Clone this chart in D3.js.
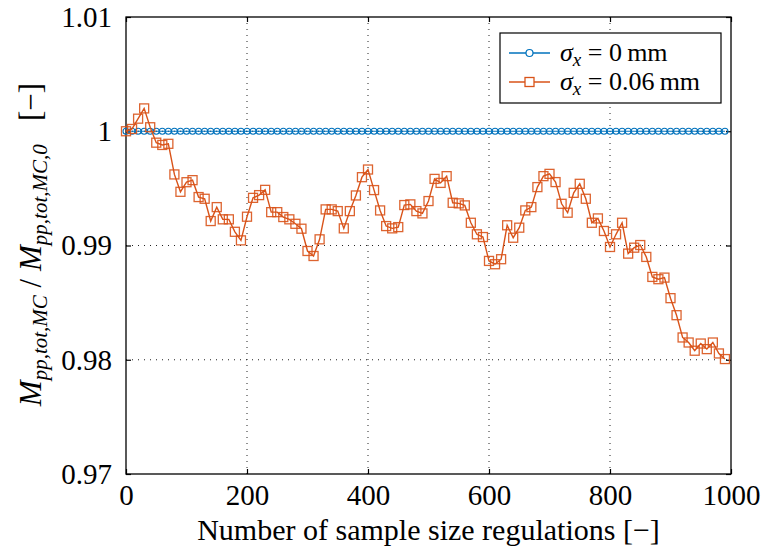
<!DOCTYPE html>
<html>
<head>
<meta charset="utf-8">
<script src="https://cdn.jsdelivr.net/npm/d3@7"></script>
<style>
  body { margin: 0; background: #fff; }
  text { font-family: "Liberation Serif", serif; fill: #000; }
</style>
</head>
<body>
<svg id="chart"></svg>
<script>
// sample size regulation steps (0, 10, ..., 990)
var steps = d3.range(0, 1000, 10);

// sigma_x = 0 mm -> ratio stays at 1
var ratioZero = steps.map(function() { return 1; });

// sigma_x = 0.06 mm
var ratioNoise = [
  1.0000, 1.0002, 1.0011, 1.0020, 1.00035, 0.9990, 0.9988, 0.9989, 0.99622, 0.99470,
  0.99554, 0.99572, 0.99424, 0.99409, 0.99214, 0.99336, 0.99229, 0.99229, 0.9912, 0.99045,
  0.99252, 0.99417, 0.99441, 0.99487, 0.99292, 0.99292, 0.99249, 0.99229, 0.99190, 0.99147,
  0.98952, 0.98908, 0.99054, 0.99316, 0.99316, 0.99301, 0.9915, 0.99301, 0.99438, 0.99598,
  0.99665, 0.99485, 0.99307, 0.9917, 0.9915, 0.99161, 0.99354, 0.9936, 0.99301, 0.99281,
  0.99389, 0.99583, 0.99548, 0.99607, 0.99374, 0.99369, 0.99351, 0.99199, 0.99098, 0.99074,
  0.98865, 0.98836, 0.9888, 0.99177, 0.99068, 0.99156, 0.99307, 0.99336, 0.99511, 0.99607,
  0.99627, 0.99555, 0.99365, 0.99287, 0.99461, 0.9954, 0.99409, 0.99199, 0.99237, 0.99127,
  0.98987, 0.99098, 0.99199, 0.98929, 0.98981, 0.99004, 0.989, 0.98725, 0.98705, 0.98719,
  0.98539, 0.9839, 0.98195, 0.98151, 0.98079, 0.98142, 0.98093, 0.98151, 0.98055, 0.98006
];

var xTicks = [0, 200, 400, 600, 800, 1000];
var yTicks = [0.97, 0.98, 0.99, 1, 1.01];
var yTickLabels = ["0.97", "0.98", "0.99", "1", "1.01"];

var blue = "#0072BD";
var orange = "#D95319";
var serif = '"Liberation Serif", "Times New Roman", serif';

var W = 763, H = 552;
var m = { left: 126, right: 731, top: 17, bottom: 474 };

var svg = d3.select("svg#chart")
    .attr("width", W)
    .attr("height", H)
    .style("font-family", serif);

var x = d3.scaleLinear()
    .domain([0, 1000])
    .range([m.left, m.right]);

var y = d3.scaleLinear()
    .domain([0.97, 1.01])
    .range([m.bottom, m.top]);

// dotted grid
var grid = svg.append("g");
grid.selectAll("line.gx")
    .data(xTicks.slice(1, -1))
    .enter().append("line")
    .attr("x1", function(d) { return x(d); })
    .attr("x2", function(d) { return x(d); })
    .attr("y1", m.top).attr("y2", m.bottom)
    .attr("stroke", "#222").attr("stroke-width", 1)
    .attr("stroke-dasharray", "1,5");
grid.selectAll("line.gy")
    .data(yTicks.slice(1, -1))
    .enter().append("line")
    .attr("y1", function(d) { return y(d); })
    .attr("y2", function(d) { return y(d); })
    .attr("x1", m.left).attr("x2", m.right)
    .attr("stroke", "#222").attr("stroke-width", 1)
    .attr("stroke-dasharray", "1,5");

// axes with inner ticks on all four sides
var fontSize = 29;
var axB = svg.append("g").attr("transform", "translate(0," + m.bottom + ")")
    .call(d3.axisBottom(x).tickValues(xTicks).tickSize(-5).tickPadding(10)
        .tickFormat(d3.format("d")));
var axT = svg.append("g").attr("transform", "translate(0," + m.top + ")")
    .call(d3.axisTop(x).tickValues(xTicks).tickSize(-5).tickFormat(""));
var axL = svg.append("g").attr("transform", "translate(" + m.left + ",0)")
    .call(d3.axisLeft(y).tickValues(yTicks).tickSize(-5).tickPadding(14)
        .tickFormat(function(d, i) { return yTickLabels[i]; }));
var axR = svg.append("g").attr("transform", "translate(" + m.right + ",0)")
    .call(d3.axisRight(y).tickValues(yTicks).tickSize(-5).tickFormat(""));

[axB, axT, axL, axR].forEach(function(a) {
    a.attr("font-family", null);
    a.select(".domain").remove();
    a.selectAll(".tick line").attr("stroke", "#000").attr("stroke-width", 1.2);
    a.selectAll("text")
        .style("font-family", serif)
        .style("font-size", fontSize + "px")
        .attr("fill", "#000");
});

// frame
svg.append("rect")
    .attr("x", m.left).attr("y", m.top)
    .attr("width", m.right - m.left).attr("height", m.bottom - m.top)
    .attr("fill", "none").attr("stroke", "#000").attr("stroke-width", 1.3);

// series
var line = d3.line()
    .x(function(d) { return x(d.x); })
    .y(function(d) { return y(d.y); });

var zeroData = steps.map(function(s, i) { return { x: s, y: ratioZero[i] }; });
var noiseData = steps.map(function(s, i) { return { x: s, y: ratioNoise[i] }; });

svg.append("path").datum(zeroData)
    .attr("d", line).attr("fill", "none")
    .attr("stroke", blue).attr("stroke-width", 1.2);
svg.append("g").selectAll("circle")
    .data(zeroData)
    .enter().append("circle")
    .attr("cx", function(d) { return x(d.x); })
    .attr("cy", function(d) { return y(d.y); })
    .attr("r", 3)
    .attr("fill", "none")
    .attr("stroke", blue).attr("stroke-width", 1.1);

svg.append("path").datum(noiseData)
    .attr("d", line).attr("fill", "none")
    .attr("stroke", orange).attr("stroke-width", 1.4);
svg.append("g").selectAll("rect")
    .data(noiseData)
    .enter().append("rect")
    .attr("x", function(d) { return x(d.x) - 4.5; })
    .attr("y", function(d) { return y(d.y) - 4.5; })
    .attr("width", 9).attr("height", 9)
    .attr("fill", "none")
    .attr("stroke", orange).attr("stroke-width", 1.3)
    .attr("stroke-opacity", 0.9);

// x title
svg.append("text")
    .attr("x", (m.left + m.right) / 2)
    .attr("y", 540)
    .attr("text-anchor", "middle")
    .style("font-size", "30px")
    .text("Number of sample size regulations [\u2212]");

// y title with subscripts
var yt = svg.append("text")
    .attr("transform", "translate(41," + ((m.top + m.bottom) / 2 - 1) + ") rotate(-90)")
    .attr("text-anchor", "middle")
    .style("font-size", "31px");
yt.append("tspan").style("font-style", "italic").text("M");
yt.append("tspan").style("font-style", "italic").style("font-size", "21px")
    .attr("dy", 6).text("pp,tot,MC");
yt.append("tspan").attr("dy", -6).text(" / ");
yt.append("tspan").style("font-style", "italic").text("M");
yt.append("tspan").style("font-style", "italic").style("font-size", "21px")
    .attr("dy", 6).text("pp,tot,MC,0");
yt.append("tspan").attr("dy", -6).text("\u2002 [\u2212]");

// legend
var legend = svg.append("g");
legend.append("rect")
    .attr("x", 500).attr("y", 33)
    .attr("width", 221).attr("height", 70)
    .attr("fill", "#fff").attr("stroke", "#000").attr("stroke-width", 1.2);

var legendItems = [
    { color: blue, marker: "circle", value: "0" },
    { color: orange, marker: "square", value: "0.06" }
];

legendItems.forEach(function(item, i) {
    var cy = 53 + i * 29;
    legend.append("line")
        .attr("x1", 509).attr("x2", 550)
        .attr("y1", cy).attr("y2", cy)
        .attr("stroke", item.color).attr("stroke-width", 1.3);
    if (item.marker === "circle") {
        legend.append("circle")
            .attr("cx", 529.5).attr("cy", cy).attr("r", 3.5)
            .attr("fill", "#fff").attr("stroke", item.color).attr("stroke-width", 1.2);
    } else {
        legend.append("rect")
            .attr("x", 525).attr("y", cy - 4.5).attr("width", 9).attr("height", 9)
            .attr("fill", "#fff").attr("stroke", item.color).attr("stroke-width", 1.3);
    }
    var t = legend.append("text")
        .attr("x", 560).attr("y", cy + 8)
        .style("font-size", "26px");
    t.append("tspan").style("font-style", "italic").text("\u03c3");
    t.append("tspan").style("font-style", "italic").style("font-size", "19px")
        .attr("dy", 5).text("x");
    t.append("tspan").attr("dy", -5).text(" = " + item.value + "\u2009mm");
});
</script>
</body>
</html>
